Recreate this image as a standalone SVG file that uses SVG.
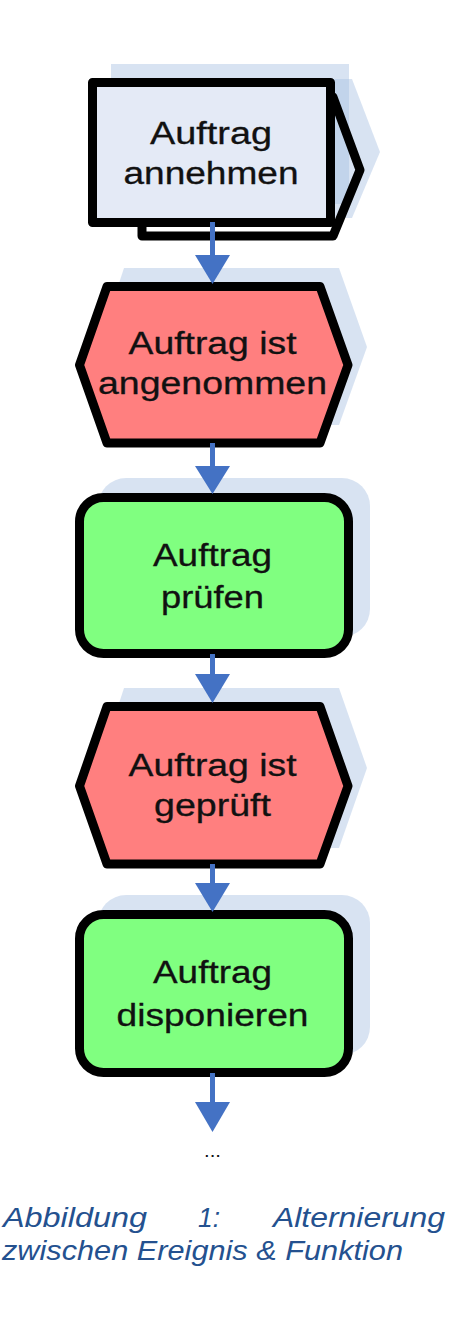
<svg xmlns="http://www.w3.org/2000/svg" width="453" height="1329" viewBox="0 0 453 1329">
<defs>
<style>
.sh{fill:#a9c0e2;fill-opacity:0.45;stroke:none}
.ol{stroke:#000;stroke-width:9;stroke-linejoin:round}
.ev{fill:#ff7f7f}
.fn{fill:#80ff80}
.t{font-family:"Liberation Sans",Arial,sans-serif;font-size:31px;fill:#111;stroke:#111;stroke-width:0.3;text-anchor:middle}
.cap{font-family:"Liberation Sans",Arial,sans-serif;font-size:27px;font-style:italic;fill:#24518f}
.ln{stroke:#4472c4;stroke-width:5;fill:none}
.hd{fill:#4472c4}
</style>
</defs>
<rect width="453" height="1329" fill="#fff"/>
<g id="node1">
<rect class="sh" x="111" y="64" width="238" height="140"/>
<polygon class="sh" points="161,79 352,79 380,152 352,218 161,218"/>
<polygon class="ol" fill="none" points="142,97 333,97 360,170 333,236 142,236"/>
<rect class="ol" x="92.5" y="82.5" width="238" height="140" fill="#e4eaf6"/>
<text class="t" x="211" y="144" textLength="122" lengthAdjust="spacingAndGlyphs">Auftrag</text>
<text class="t" x="211" y="184" textLength="175" lengthAdjust="spacingAndGlyphs">annehmen</text>
</g>
<g id="node2">
<polygon class="sh" points="124,268 339,268 367,347 339,425 124,425 98,347"/>
<polygon class="ol ev" points="107,286.5 320,286.5 348,365 320,443 107,443 79.5,365"/>
<text class="t" x="212.5" y="354" textLength="168" lengthAdjust="spacingAndGlyphs">Auftrag ist</text>
<text class="t" x="212.5" y="394" textLength="229" lengthAdjust="spacingAndGlyphs">angenommen</text>
</g>
<g id="node3">
<rect class="sh" x="98" y="478" width="272" height="159" rx="28"/>
<rect class="ol fn" x="79.5" y="497.5" width="269" height="156" rx="24"/>
<text class="t" x="212.5" y="566" textLength="119" lengthAdjust="spacingAndGlyphs">Auftrag</text>
<text class="t" x="212.5" y="608" textLength="103" lengthAdjust="spacingAndGlyphs">prüfen</text>
</g>
<g id="node4">
<polygon class="sh" points="124,688 339,688 367,768 339,848 124,848 98,768"/>
<polygon class="ol ev" points="107,706.5 320,706.5 348,786 320,864 107,864 79.5,786"/>
<text class="t" x="212.5" y="776" textLength="168" lengthAdjust="spacingAndGlyphs">Auftrag ist</text>
<text class="t" x="212.5" y="816" textLength="117" lengthAdjust="spacingAndGlyphs">geprüft</text>
</g>
<g id="node5">
<rect class="sh" x="98" y="895" width="272" height="160" rx="28"/>
<rect class="ol fn" x="79.5" y="914.5" width="269" height="158" rx="24"/>
<text class="t" x="212.5" y="983" textLength="119" lengthAdjust="spacingAndGlyphs">Auftrag</text>
<text class="t" x="212.5" y="1026" textLength="192" lengthAdjust="spacingAndGlyphs">disponieren</text>
</g>
<g id="connectors">
<line class="ln" x1="212.5" y1="222" x2="212.5" y2="258"/>
<polygon class="hd" points="195,255 230,255 212.5,284"/>
<line class="ln" x1="212.5" y1="443" x2="212.5" y2="469"/>
<polygon class="hd" points="195,466 230,466 212.5,494"/>
<line class="ln" x1="212.5" y1="654" x2="212.5" y2="677"/>
<polygon class="hd" points="195,674 230,674 212.5,703"/>
<line class="ln" x1="212.5" y1="864" x2="212.5" y2="886"/>
<polygon class="hd" points="195,883 230,883 212.5,912"/>
<line class="ln" x1="212.5" y1="1073" x2="212.5" y2="1105"/>
<polygon class="hd" points="195,1102 230,1102 212.5,1132"/>
</g>
<text x="212.5" y="1157" font-family="Liberation Sans, Arial, sans-serif" font-size="18" fill="#111" text-anchor="middle" textLength="17" lengthAdjust="spacingAndGlyphs">...</text>
<g id="caption">
<text class="cap" x="3" y="1227" textLength="144" lengthAdjust="spacingAndGlyphs">Abbildung</text>
<text class="cap" x="198" y="1227" textLength="22" lengthAdjust="spacingAndGlyphs">1:</text>
<text class="cap" x="273" y="1227" textLength="172" lengthAdjust="spacingAndGlyphs">Alternierung</text>
<text class="cap" x="2" y="1260" textLength="401" lengthAdjust="spacingAndGlyphs">zwischen Ereignis &amp; Funktion</text>
</g>
</svg>
